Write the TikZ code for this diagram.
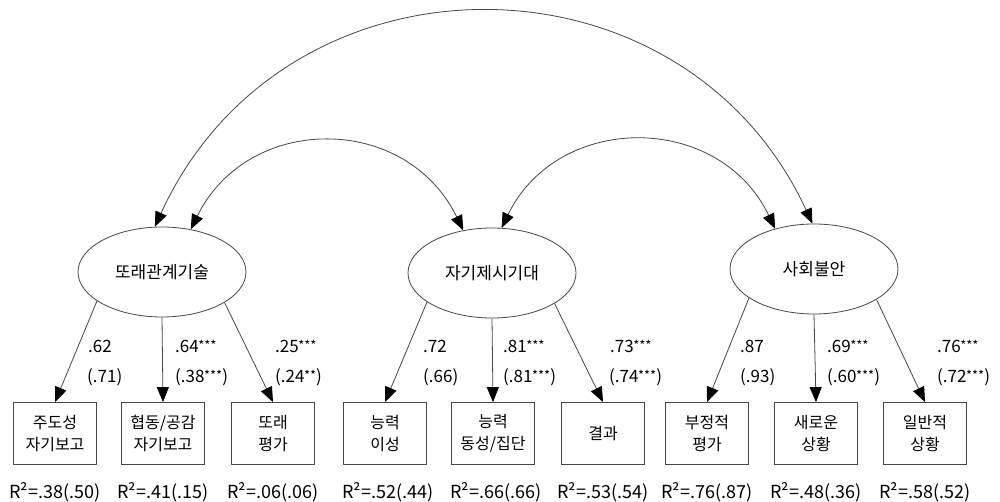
\documentclass[tikz,border=0pt]{standalone}
\usepackage{fontspec}
\setmainfont{Noto Sans CJK KR}
\usetikzlibrary{arrows.meta,shapes.geometric}
\newcommand\sigstar[1]{\raisebox{0.1em}{\fontsize{13}{13}\selectfont\kern-0.5pt#1}}
\begin{document}
\begin{tikzpicture}[x=1pt,y=-1pt,
  line/.style={draw=black!72, line width=0.8pt},
  lv/.style={ellipse, draw=black!72, line width=0.8pt, minimum width=168pt, minimum height=90pt, inner sep=0pt, font=\fontsize{17}{20}\selectfont},
  obs/.style={rectangle, draw=black!72, line width=0.8pt, minimum width=83pt, minimum height=62pt, inner sep=0pt, align=center, font=\fontsize{16}{22}\selectfont},
  coef/.style={anchor=west, inner sep=0pt, font=\fontsize{17}{20}\selectfont},
  rsq/.style={inner sep=0pt, font=\fontsize{18}{20}\selectfont},
  onetip/.style={-{Triangle[length=15pt,width=12pt,color=black]}},
  bothtips/.style={{Triangle[length=15pt,width=12pt,color=black]}-{Triangle[length=15pt,width=12pt,color=black]}},
]
\useasboundingbox (0,0) rectangle (1000,502);
\fill[white] (0,0) rectangle (1000,502);

% latent variables
\node[lv] (e1) at (162,272) {또래관계기술};
\node[lv] (e2) at (492,273) {자기제시기대};
\node[lv] (e3) at (814,269) {사회불안};

% observed variables
\node[obs] (b1) at (55,433.5) {주도성\\자기보고};
\node[obs] (b2) at (163,433.5) {협동/공감\\자기보고};
\node[obs] (b3) at (273,433.5) {또래\\평가};
\node[obs] (b4) at (385,433.5) {능력\\이성};
\node[obs] (b5) at (493,433.5) {능력\\동성/집단};
\node[obs] (b6) at (603,433.5) {결과};
\node[obs] (b7) at (707,433.5) {부정적\\평가};
\node[obs] (b8) at (816,433.5) {새로운\\상황};
\node[obs] (b9) at (925,433.5) {일반적\\상황};

% loadings
\draw[line,onetip] (e1.204) -- (b1.north);
\draw[line,onetip] (e1.south) -- (b2.north);
\draw[line,onetip] (e1.334) -- (b3.north);
\draw[line,onetip] (e2.204) -- (b4.north);
\draw[line,onetip] (e2.south) -- (b5.north);
\draw[line,onetip] (e2.334) -- (b6.north);
\draw[line,onetip] (e3.204) -- (b7.north);
\draw[line,onetip] (e3.south) -- (b8.north);
\draw[line,onetip] (e3.334) -- (b9.north);

% correlations
\draw[line,bothtips] (e1.99) .. controls (285,-58) and (682,-58) .. (e3.92);
\draw[line,bothtips] (e1.56) .. controls (248,113) and (406,113) .. (e2.124);
\draw[line,bothtips] (e2.78) .. controls (558,112) and (719,112) .. (e3.134);

% coefficients
\node[coef] (c1a) at (88,346) {.62};
\node[coef] (c1b) at (87,377) {(.71)};
\node[coef] (c2a) at (175,346) {.64\sigstar{***}};
\node[coef] (c2b) at (175,377) {(.38\sigstar{***})};
\node[coef] (c3a) at (275,346) {.25\sigstar{***}};
\node[coef] (c3b) at (275,377) {(.24\sigstar{**})};
\node[coef] (c4a) at (423,346) {.72};
\node[coef] (c4b) at (423,377) {(.66)};
\node[coef] (c5a) at (503,346) {.81\sigstar{***}};
\node[coef] (c5b) at (503,377) {(.81\sigstar{***})};
\node[coef] (c6a) at (610,346) {.73\sigstar{***}};
\node[coef] (c6b) at (609,377) {(.74\sigstar{***})};
\node[coef] (c7a) at (740,346) {.87};
\node[coef] (c7b) at (740,377) {(.93)};
\node[coef] (c8a) at (827,346) {.69\sigstar{***}};
\node[coef] (c8b) at (827,377) {(.60\sigstar{***})};
\node[coef] (c9a) at (937,346) {.76\sigstar{***}};
\node[coef] (c9b) at (937,377) {(.72\sigstar{***})};

% R squared
\node[rsq] (r1) at (55,492) {R²=.38(.50)};
\node[rsq] (r2) at (163,492) {R²=.41(.15)};
\node[rsq] (r3) at (273,492) {R²=.06(.06)};
\node[rsq] (r4) at (388,492) {R²=.52(.44)};
\node[rsq] (r5) at (496,492) {R²=.66(.66)};
\node[rsq] (r6) at (603,492) {R²=.53(.54)};
\node[rsq] (r7) at (707,492) {R²=.76(.87)};
\node[rsq] (r8) at (816,492) {R²=.48(.36)};
\node[rsq] (r9) at (925,492) {R²=.58(.52)};
\end{tikzpicture}
\end{document}
